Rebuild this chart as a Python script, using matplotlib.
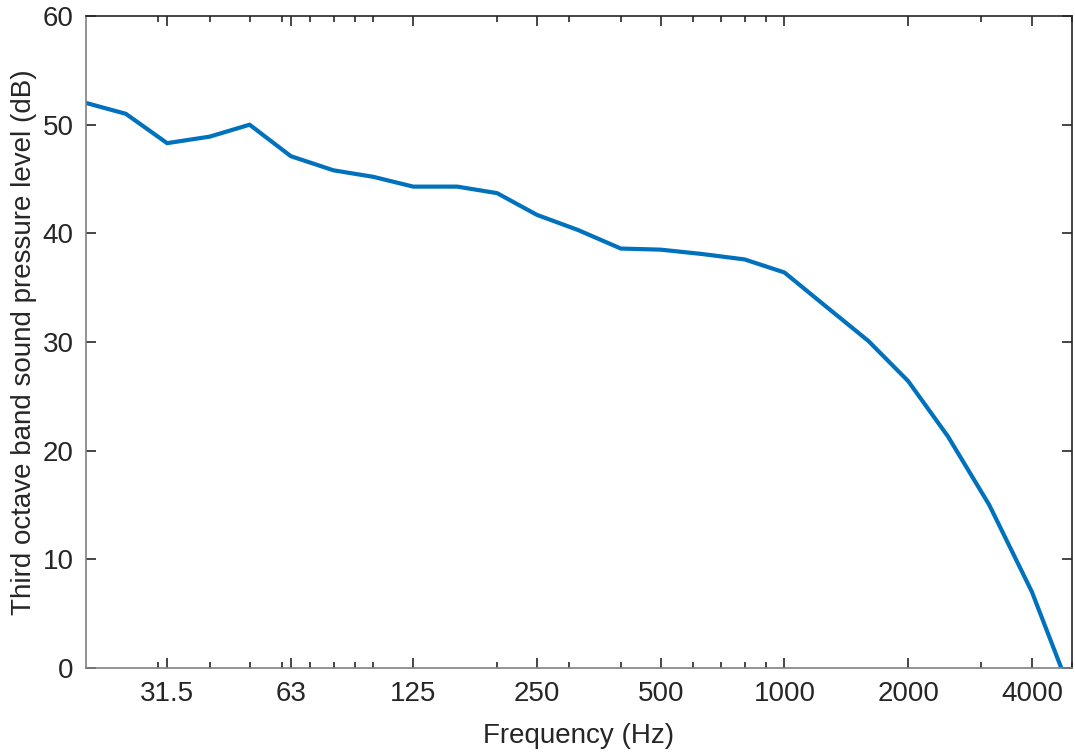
import matplotlib
matplotlib.use("Agg")
import matplotlib.pyplot as plt
import numpy as np

# third octave band centres and levels
freqs = [20, 25, 31.5, 40, 50, 63, 80, 100, 125, 160, 200, 250, 315, 400,
         500, 630, 800, 1000, 1250, 1600, 2000, 2500, 3150, 4000, 5000]
levels = [52.0, 51.0, 48.3, 48.9, 50.0, 47.1, 45.8, 45.2, 44.3, 44.3, 43.7,
          41.7, 40.3, 38.6, 38.5, 38.1, 37.6, 36.4, 33.4, 30.1, 26.4, 21.3,
          15.0, 7.0, -2.5]

xticks = [31.5, 63, 125, 250, 500, 1000, 2000, 4000]
xticklabels = ['31.5', '63', '125', '250', '500', '1000', '2000', '4000']
minor = [30, 40, 50, 60, 70, 80, 90, 100, 200, 300, 400, 600, 700, 800, 900,
         3000, 5000]

plt.rcParams['font.family'] = ['Liberation Sans', 'DejaVu Sans']
plt.rcParams['font.size'] = 20

fig = plt.figure(figsize=(10.75, 7.52), dpi=100)
ax = fig.add_axes([0.08, 0.1117, 0.917, 0.867])

ax.plot(freqs, levels, color='#0072BD', lw=3.0, clip_on=True)
ax.set_xscale('log')
ax.set_xlim(20, 5000)
ax.set_ylim(0, 60)
ax.set_xticks(xticks)
ax.set_xticklabels(xticklabels)
ax.set_xticks(minor, minor=True)
ax.xaxis.set_minor_formatter(matplotlib.ticker.NullFormatter())
ax.set_yticks(np.arange(0, 61, 10))

dark = '#262626'
ax.tick_params(which='both', direction='in', top=True, right=True,
               colors=dark, labelcolor=dark)
ax.tick_params(which='major', length=7, width=1.2, pad=9)
ax.tick_params(which='minor', length=4, width=1.2)
for s in ['top', 'right']:
    ax.spines[s].set_color(dark)
for s in ['left', 'bottom']:
    ax.spines[s].set_color('#808080')
for s in ax.spines.values():
    s.set_linewidth(1.2)

ax.set_xlabel('Frequency (Hz)', color=dark, labelpad=12)
ax.set_ylabel('Third octave band sound pressure level (dB)', color=dark, labelpad=4)

fig.savefig('out.png', dpi=100)
